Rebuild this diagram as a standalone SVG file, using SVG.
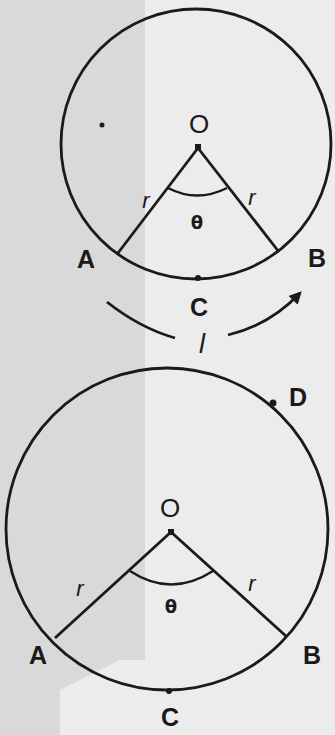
<svg xmlns="http://www.w3.org/2000/svg" width="335" height="735" viewBox="0 0 335 735">
<style>
.ln{fill:none;stroke:#1a1a1a;stroke-width:2.8}
.th{fill:none;stroke:#1a1a1a;stroke-width:2.4}
.lbl{font-family:"Liberation Sans",Arial,sans-serif;font-size:25px;font-weight:bold;fill:#1a1a1a;text-anchor:middle}
.o{font-family:"Liberation Sans",Arial,sans-serif;font-size:26px;fill:#1a1a1a;text-anchor:middle}
.it{font-family:"Liberation Sans",Arial,sans-serif;font-style:italic;font-size:22px;fill:#1a1a1a;text-anchor:middle}
.sm{font-family:"DejaVu Sans",sans-serif;font-size:18px;fill:#1a1a1a;text-anchor:middle;font-weight:bold}
.dot{fill:#1a1a1a}
</style>
<defs>
<marker id="ah" viewBox="0 0 10 10" refX="8" refY="5" markerWidth="4.5" markerHeight="4.5" orient="auto"><path d="M0,0 L10,5 L0,10 z" fill="#1a1a1a"/></marker>
</defs>
<rect x="0" y="0" width="335" height="735" fill="#ececec"/>
<rect x="0" y="0" width="145" height="735" fill="#d9d9d9"/>
<polygon points="60,735 60,690 120,660 335,660 335,735" fill="#ececec"/>
<g id="top-circle">
<circle class="ln" cx="196" cy="144" r="135"/>
<circle class="dot" cx="102" cy="125" r="2.5"/>
</g>
<g id="top-O"><rect class="dot" x="195" y="144" width="6" height="6"/><text class="o" x="199" y="133">O</text></g>
<g id="top-A"><text class="lbl" x="86" y="268">A</text></g>
<g id="top-B"><text class="lbl" x="317" y="267">B</text></g>
<g id="top-C"><circle class="dot" cx="198" cy="278" r="3"/><text class="lbl" x="199" y="316">C</text></g>
<g id="top-labels">
<text class="it" x="146" y="208">r</text>
<text class="it" x="252" y="205">r</text>
<text class="sm" x="197" y="229">θ</text>
<text class="it" x="202" y="353" style="font-size:27px">l</text>
</g>
<g id="bottom-circle"><circle class="ln" cx="167" cy="529" r="161"/></g>
<g id="bottom-O"><rect class="dot" x="168" y="529" width="6" height="6"/><text class="o" x="170" y="517">O</text></g>
<g id="bottom-A"><text class="lbl" x="38" y="664">A</text></g>
<g id="bottom-B"><text class="lbl" x="312" y="664">B</text></g>
<g id="bottom-C"><circle class="dot" cx="169" cy="691" r="3"/><text class="lbl" x="170" y="726">C</text></g>
<g id="bottom-D"><circle class="dot" cx="273" cy="403" r="3.5"/><text class="lbl" x="298" y="406">D</text></g>
<g id="bottom-labels">
<text class="it" x="80" y="596">r</text>
<text class="it" x="252" y="591">r</text>
<text class="sm" x="171" y="613">θ</text>
</g>
<g id="connectors">
<line class="ln" x1="198" y1="148" x2="118" y2="253"/>
<line class="ln" x1="198" y1="148" x2="279" y2="252"/>
<path class="th" d="M168,188 Q197,203 227,188"/>
<path class="ln" d="M107,302 Q140,328 175,338"/>
<path class="ln" d="M228,335 Q270,325 300,293" marker-end="url(#ah)"/>
<line class="ln" x1="171" y1="532" x2="55" y2="638"/>
<line class="ln" x1="171" y1="532" x2="287" y2="637"/>
<path class="th" d="M130,571 Q171,598 213,571"/>
</g>
</svg>
